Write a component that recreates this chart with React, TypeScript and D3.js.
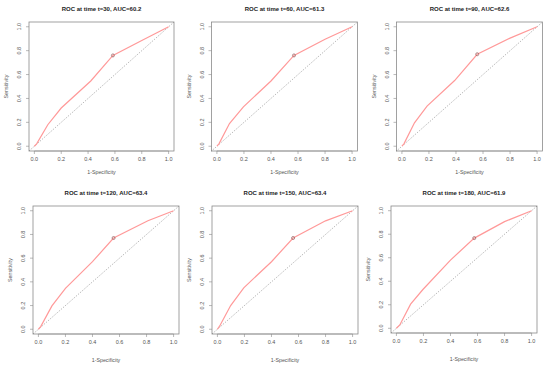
import React from 'react';
import * as d3 from 'd3';

// time points and AUC for each panel
const times = [30, 60, 90, 120, 150, 180];
const aucs = ['60.2', '61.3', '62.6', '63.4', '63.4', '61.9'];

// ROC curve points (1-specificity, sensitivity)
const fprs = [
  [0, 0.017, 0.1, 0.2, 0.42, 0.585, 0.8, 1.0],
  [0, 0.015, 0.093, 0.196, 0.4, 0.57, 0.8, 1.0],
  [0, 0.015, 0.093, 0.186, 0.39, 0.557, 0.8, 1.0],
  [0, 0.017, 0.1, 0.2, 0.4, 0.556, 0.81, 1.0],
  [0, 0.017, 0.098, 0.195, 0.4, 0.56, 0.8, 1.0],
  [0, 0.025, 0.105, 0.196, 0.4, 0.576, 0.8, 1.0],
];
const tprs = [
  [0, 0.02, 0.18, 0.32, 0.546, 0.76, 0.885, 1.0],
  [0, 0.02, 0.19, 0.33, 0.546, 0.76, 0.895, 1.0],
  [0, 0.02, 0.196, 0.336, 0.55, 0.77, 0.905, 1.0],
  [0, 0.022, 0.197, 0.345, 0.57, 0.77, 0.915, 1.0],
  [0, 0.028, 0.2, 0.35, 0.57, 0.77, 0.915, 1.0],
  [0, 0.028, 0.205, 0.33, 0.58, 0.767, 0.907, 1.0],
];
// index of the marked cutoff on each curve
const cutoffIdx = [5, 5, 5, 5, 5, 5];

const tickValues = [0, 0.2, 0.4, 0.6, 0.8, 1.0];

// panel boxes on the page
const boxes = [
  { left: 29, top: 22, w: 145, h: 129, lab: 21 },
  { left: 211.5, top: 22, w: 146, h: 129, lab: 21 },
  { left: 396.5, top: 22, w: 146, h: 129, lab: 21 },
  { left: 33, top: 206, w: 146, h: 128, lab: 26 },
  { left: 212, top: 206, w: 146, h: 128, lab: 26 },
  { left: 391, top: 206, w: 146, h: 127, lab: 26 },
];

const font = 'Liberation Sans, Arial, sans-serif';

const Panel = ({ i }: { i: number }) => {
  const b = boxes[i];
  const x = d3.scaleLinear().domain([-0.04, 1.04]).range([b.left, b.left + b.w]);
  const y = d3.scaleLinear().domain([-0.04, 1.04]).range([b.top + b.h, b.top]);
  const pts = fprs[i].map((f, k) => [f, tprs[i][k]] as [number, number]);
  const line = d3
    .line<[number, number]>()
    .x((d) => x(d[0]))
    .y((d) => y(d[1]));
  const cut = pts[cutoffIdx[i]];
  const bottom = b.top + b.h;
  const cx = b.left + b.w / 2;
  const cy = b.top + b.h / 2;

  return (
    <g>
      <text x={cx} y={b.top - 11} textAnchor="middle" fontSize={6} fontWeight="bold" fill="#222" fontFamily={font}>
        {`ROC at time t=${times[i]}, AUC=${aucs[i]}`}
      </text>
      <rect x={b.left} y={b.top} width={b.w} height={b.h} fill="white" stroke="#8a8a8a" strokeWidth={0.8} />
      <line x1={x(-0.04)} y1={y(-0.04)} x2={x(1.04)} y2={y(1.04)} stroke="#666" strokeWidth={0.6} strokeDasharray="1,1.5" />
      <path d={line(pts) || ''} fill="none" stroke="#ff9999" strokeWidth={1.2} />
      <circle cx={x(cut[0])} cy={y(cut[1])} r={1.5} fill="none" stroke="#9a6a6a" strokeWidth={0.8} />
      {/* x axis */}
      <line x1={x(0)} x2={x(1)} y1={bottom} y2={bottom} stroke="#8a8a8a" strokeWidth={0.6} />
      {tickValues.map((t) => (
        <g key={'x' + t}>
          <line x1={x(t)} x2={x(t)} y1={bottom} y2={bottom + 3} stroke="#8a8a8a" strokeWidth={0.6} />
          <text x={x(t)} y={bottom + 10} textAnchor="middle" fontSize={5.5} fill="#555" fontFamily={font}>
            {d3.format('.1f')(t)}
          </text>
        </g>
      ))}
      <text x={cx} y={bottom + b.lab + 2} textAnchor="middle" fontSize={5.3} fill="#555" fontFamily={font}>
        1-Specificity
      </text>
      {/* y axis */}
      {tickValues.map((t) => (
        <g key={'y' + t}>
          <line x1={b.left - 3} x2={b.left} y1={y(t)} y2={y(t)} stroke="#8a8a8a" strokeWidth={0.6} />
          <text
            transform={`translate(${b.left - 8},${y(t)}) rotate(-90)`}
            textAnchor="middle"
            fontSize={5.5}
            fill="#555"
            fontFamily={font}
          >
            {d3.format('.1f')(t)}
          </text>
        </g>
      ))}
      <text
        transform={`translate(${b.left - 21},${cy}) rotate(-90)`}
        textAnchor="middle"
        fontSize={5.3}
        fill="#555"
        fontFamily={font}
      >
        Sensitivity
      </text>
    </g>
  );
};

const App = () => {
  return (
    <svg
      width={550}
      height={368}
      style={{ position: 'absolute', left: 0, top: 0, background: 'white' }}
    >
      {times.map((t, i) => (
        <Panel key={t} i={i} />
      ))}
    </svg>
  );
};

export default App;
